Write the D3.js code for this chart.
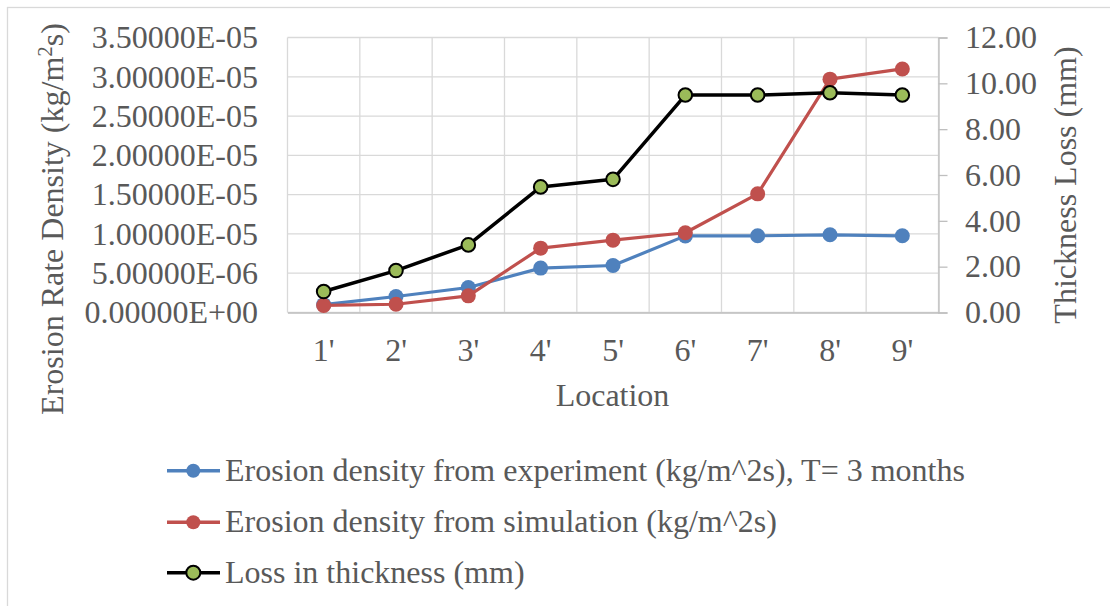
<!DOCTYPE html>
<html><head><meta charset="utf-8">
<script src="https://cdn.jsdelivr.net/npm/d3@7"></script>
<style>html,body{margin:0;padding:0;background:#fff;overflow:hidden}</style>
</head><body>
<script>
const categories = ["1'","2'","3'","4'","5'","6'","7'","8'","9'"];
const experiment = [1.0e-6, 2.04e-6, 3.18e-6, 5.65e-6, 5.98e-6, 9.75e-6, 9.76e-6, 9.89e-6, 9.76e-6];
const simulation = [0.9e-6, 1.05e-6, 2.12e-6, 8.19e-6, 9.21e-6, 10.15e-6, 15.1e-6, 29.7e-6, 31.0e-6];
const thickness = [0.915, 1.83, 2.95, 5.48, 5.81, 9.49, 9.49, 9.59, 9.49];
const leftTicks = [0, 5e-6, 1e-5, 1.5e-5, 2e-5, 2.5e-5, 3e-5, 3.5e-5];
const rightTicks = [0, 2, 4, 6, 8, 10, 12];
const seriesNames = ["Erosion density from experiment (kg/m^2s), T= 3 months",
  "Erosion density from simulation (kg/m^2s)", "Loss in thickness (mm)"];

const W = 1110, H = 606;
const L = 287.5, R = 938.5, T = 37.5, B = 312.5;
const font = "'Liberation Serif','Times New Roman',serif";
const FS = 32;
const txt = "#595959";
const svg = d3.select("body").append("svg").attr("width", W).attr("height", H);
svg.append("rect").attr("width", W).attr("height", H).attr("fill", "#fff");
svg.append("rect").attr("x", 7.5).attr("y", 7.5).attr("width", W + 20).attr("height", H + 20)
  .attr("fill", "none").attr("stroke", "#D9D9D9").attr("stroke-width", 1.3);

const x = d3.scaleBand().domain(categories).range([L, R]).padding(0);
const yL = d3.scaleLinear().domain([0, 3.5e-5]).range([B, T]);
const yR = d3.scaleLinear().domain([0, 12]).range([B, T]);

// gridlines
const g = svg.append("g");
g.selectAll(".hg").data(leftTicks).join("line")
  .attr("x1", L).attr("x2", R).attr("y1", d => yL(d)).attr("y2", d => yL(d))
  .attr("stroke", "#D9D9D9").attr("stroke-width", 1.3);
g.selectAll(".vg").data(categories.concat(["end"])).join("line")
  .attr("x1", (d, i) => L + i * x.bandwidth()).attr("x2", (d, i) => L + i * x.bandwidth())
  .attr("y1", T).attr("y2", B).attr("stroke", "#D9D9D9").attr("stroke-width", 1.3);

// axes
const axB = svg.append("g").attr("transform", `translate(0,${B})`)
  .call(d3.axisBottom(x).tickSize(0).tickPadding(26));
axB.select(".domain").attr("stroke", "#BFBFBF").attr("stroke-width", 1.3);
axB.selectAll("text").attr("font-family", font).attr("font-size", FS).attr("fill", txt)
  .attr("y", 48.5).attr("dy", 0);

const axL = svg.append("g").attr("transform", `translate(${L},0)`)
  .call(d3.axisLeft(yL).tickValues(leftTicks).tickSize(0).tickPadding(29.5)
    .tickFormat(d => { const s = d.toExponential(5).toUpperCase(); return s.replace(/E([+-])(\d)$/, "E$10$2"); }));
axL.select(".domain").remove();
axL.selectAll("text").attr("font-family", font).attr("font-size", FS).attr("fill", txt);

const axR = svg.append("g").attr("transform", `translate(${R},0)`)
  .call(d3.axisRight(yR).tickValues(rightTicks).tickSize(9).tickPadding(17.5).tickFormat(d3.format(".2f")));
axR.select(".domain").attr("stroke", "#BFBFBF").attr("stroke-width", 1.3);
axR.selectAll(".tick line").attr("stroke", "#BFBFBF").attr("stroke-width", 1.3);
axR.selectAll("text").attr("font-family", font).attr("font-size", FS).attr("fill", txt);

// titles
svg.append("text").attr("x", 612.5).attr("y", 406).attr("text-anchor", "middle")
  .attr("font-family", font).attr("font-size", FS).attr("fill", txt).text("Location");
const lt = svg.append("text").attr("transform", "translate(63,219) rotate(-90)").attr("text-anchor", "middle")
  .attr("font-family", font).attr("font-size", FS).attr("fill", txt);
lt.append("tspan").text("Erosion Rate Density (kg/m");
lt.append("tspan").attr("font-size", 21).attr("dy", -11).text("2");
lt.append("tspan").attr("dy", 11).text("s)");
svg.append("text").attr("transform", "translate(1076,185) rotate(-90)").attr("text-anchor", "middle")
  .attr("font-family", font).attr("font-size", FS).attr("fill", txt).text("Thickness Loss (mm)");

// series
const cx = d => x(d) + x.bandwidth() / 2;
function drawSeries(vals, yS, color, mfill, mstroke, r, lw) {
  const pts = vals.map((v, i) => [cx(categories[i]), yS(v)]);
  svg.append("path").attr("d", d3.line()(pts)).attr("fill", "none").attr("stroke", color)
    .attr("stroke-width", lw).attr("stroke-linejoin", "round").attr("stroke-linecap", "round");
  svg.append("g").selectAll("circle").data(pts).join("circle")
    .attr("cx", d => d[0]).attr("cy", d => d[1]).attr("r", r)
    .attr("fill", mfill).attr("stroke", mstroke).attr("stroke-width", mstroke === "none" ? 0 : 2);
}
drawSeries(experiment, yL, "#4F81BD", "#4F81BD", "none", 7.5, 3.2);
drawSeries(simulation, yL, "#C0504D", "#C0504D", "none", 7.5, 3.2);
drawSeries(thickness, yR, "#000", "#9BBB59", "#000", 6.8, 3.5);

// legend
const leg = [
  {name: seriesNames[0], color: "#4F81BD", fill: "#4F81BD", stroke: "none"},
  {name: seriesNames[1], color: "#C0504D", fill: "#C0504D", stroke: "none"},
  {name: seriesNames[2], color: "#000", fill: "#9BBB59", stroke: "#000"}];
const ly = [470.7, 522.3, 572.7];
leg.forEach((d, i) => {
  const gg = svg.append("g").attr("transform", `translate(0,${ly[i]})`);
  gg.append("line").attr("x1", 167).attr("x2", 220).attr("stroke", d.color).attr("stroke-width", 3.5);
  gg.append("circle").attr("cx", 193.3).attr("r", 7).attr("fill", d.fill)
    .attr("stroke", d.stroke).attr("stroke-width", d.stroke === "none" ? 0 : 2);
  gg.append("text").attr("x", 225).attr("y", 10).attr("font-family", font).attr("font-size", FS)
    .attr("fill", txt).text(d.name);
});
</script>
</body></html>
